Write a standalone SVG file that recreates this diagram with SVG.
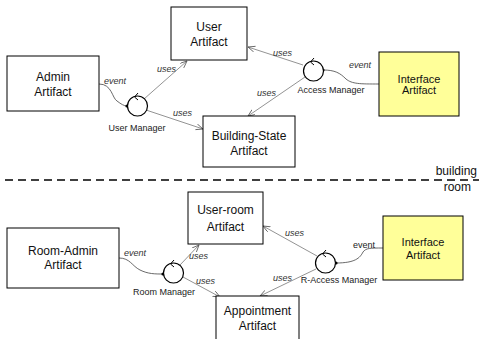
<svg xmlns="http://www.w3.org/2000/svg" width="479" height="339" viewBox="0 0 479 339">
<style>
.box{fill:#fff;stroke:#000;stroke-width:1}
.yel{fill:#ffff99;stroke:#000;stroke-width:1}
.bt{font-family:"Liberation Sans",Arial,sans-serif;font-size:12px;fill:#111;text-anchor:middle}
.it{font-family:"Liberation Sans",Arial,sans-serif;font-size:11px;fill:#111;text-anchor:middle}
.lab{font-family:"Liberation Sans",Arial,sans-serif;font-size:9px;fill:#222}
.use{font-family:"Liberation Sans",Arial,sans-serif;font-size:9px;fill:#333;font-style:italic}
.mc{fill:#fff;stroke:#000;stroke-width:1.2}
.chev{fill:none;stroke:#000;stroke-width:1}
.u{fill:none;stroke:#777;stroke-width:0.8;marker-end:url(#arr)}
.ev{fill:none;stroke:#444;stroke-width:0.8;marker-end:url(#dot)}
</style>
<defs>
<marker id="arr" markerWidth="10" markerHeight="10" refX="7" refY="3" orient="auto" markerUnits="userSpaceOnUse">
<path d="M0,0 L7,3 L0,6" fill="none" stroke="#555" stroke-width="0.8"/>
</marker>
<marker id="dot" markerWidth="6" markerHeight="6" refX="3" refY="3" orient="auto" markerUnits="userSpaceOnUse">
<circle cx="3" cy="3" r="1.6" fill="#000"/>
</marker>
</defs>

<g id="connectors">
<path class="ev" d="M99,84 C112,84 112,98 117,101 C121,104 124,106 127,106"/>
<path class="u" d="M144,99 L187,61"/>
<path class="u" d="M146,110 L203,129"/>
<path class="u" d="M303,65 L248,47"/>
<path class="u" d="M305,77 L248,116"/>
<path class="ev" d="M379,84 C360,84 352,84 346,79 C340,73 335,70 323,70"/>
<path class="ev" d="M119,258 C130,258 132,266 140,270 C148,274 155,274 163,274"/>
<path class="u" d="M180,265 L199,245"/>
<path class="u" d="M183,277 L220,297"/>
<path class="u" d="M317,256 L263,226"/>
<path class="u" d="M316,269 L260,296"/>
<path class="ev" d="M383,248 C370,248 366,248 363,252 C360,258 355,263 336,263"/>
<text class="use" x="104" y="84">event</text>
<text class="use" x="157" y="72">uses</text>
<text class="use" x="173" y="116">uses</text>
<text class="use" x="273" y="56">uses</text>
<text class="use" x="257" y="96">uses</text>
<text class="use" x="349" y="68">event</text>
<text class="use" x="124" y="256">event</text>
<text class="use" x="189" y="259">uses</text>
<text class="use" x="196" y="284">uses</text>
<text class="use" x="285" y="236">uses</text>
<text class="use" x="273" y="281">uses</text>
<text class="lab" x="353" y="248">event</text>
</g>

<g id="admin">
<rect class="box" x="7" y="56" width="92" height="55"/>
<text class="bt" x="53" y="81">Admin</text>
<text class="bt" x="53" y="96">Artifact</text>
</g>
<g id="user">
<rect class="box" x="171" y="7" width="76" height="53"/>
<text class="bt" x="209" y="31">User</text>
<text class="bt" x="209" y="46">Artifact</text>
</g>
<g id="building-state">
<rect class="box" x="203" y="116" width="92" height="51"/>
<text class="bt" x="249" y="140">Building-State</text>
<text class="bt" x="249" y="155">Artifact</text>
</g>
<g id="interface1">
<rect class="yel" x="379" y="52" width="80" height="64"/>
<text class="it" x="419" y="83">Interface</text>
<text class="it" x="419" y="94">Artifact</text>
</g>
<g id="user-manager">
<circle class="mc" cx="137.5" cy="106" r="10"/>
<path class="chev" d="M138,93 L134.5,97 L138,100"/>
<text class="lab" x="137" y="131" text-anchor="middle">User Manager</text>
</g>
<g id="access-manager">
<circle class="mc" cx="313.5" cy="71" r="10"/>
<path class="chev" d="M314,58 L310.5,62 L314,65"/>
<text class="lab" x="331" y="93" text-anchor="middle">Access Manager</text>
</g>

<g id="separator">
<line x1="5" y1="180" x2="479" y2="180" stroke="#000" stroke-width="1.5" stroke-dasharray="8,5"/>
<text class="bt" x="477" y="175" style="text-anchor:end">building</text>
<text class="bt" x="471" y="191" style="text-anchor:end">room</text>
</g>

<g id="room-admin">
<rect class="box" x="7" y="228" width="112" height="60"/>
<text class="bt" x="63" y="255">Room-Admin</text>
<text class="bt" x="63" y="269">Artifact</text>
</g>
<g id="user-room">
<rect class="box" x="188" y="192" width="75" height="52"/>
<text class="bt" x="225.5" y="214">User-room</text>
<text class="bt" x="225.5" y="231">Artifact</text>
</g>
<g id="appointment">
<rect class="box" x="216" y="296" width="83" height="50"/>
<text class="bt" x="257.5" y="315">Appointment</text>
<text class="bt" x="257.5" y="330">Artifact</text>
</g>
<g id="interface2">
<rect class="yel" x="383" y="216" width="80" height="64"/>
<text class="it" x="423" y="246">Interface</text>
<text class="it" x="423" y="259">Artifact</text>
</g>
<g id="room-manager">
<circle class="mc" cx="173.5" cy="273" r="10"/>
<path class="chev" d="M174,260 L170.5,264 L174,267"/>
<text class="lab" x="164" y="295" text-anchor="middle">Room Manager</text>
</g>
<g id="r-access-manager">
<circle class="mc" cx="325.5" cy="263" r="10"/>
<path class="chev" d="M326,250 L322.5,254 L326,257"/>
<text class="lab" x="339" y="283" text-anchor="middle">R-Access Manager</text>
</g>
</svg>
